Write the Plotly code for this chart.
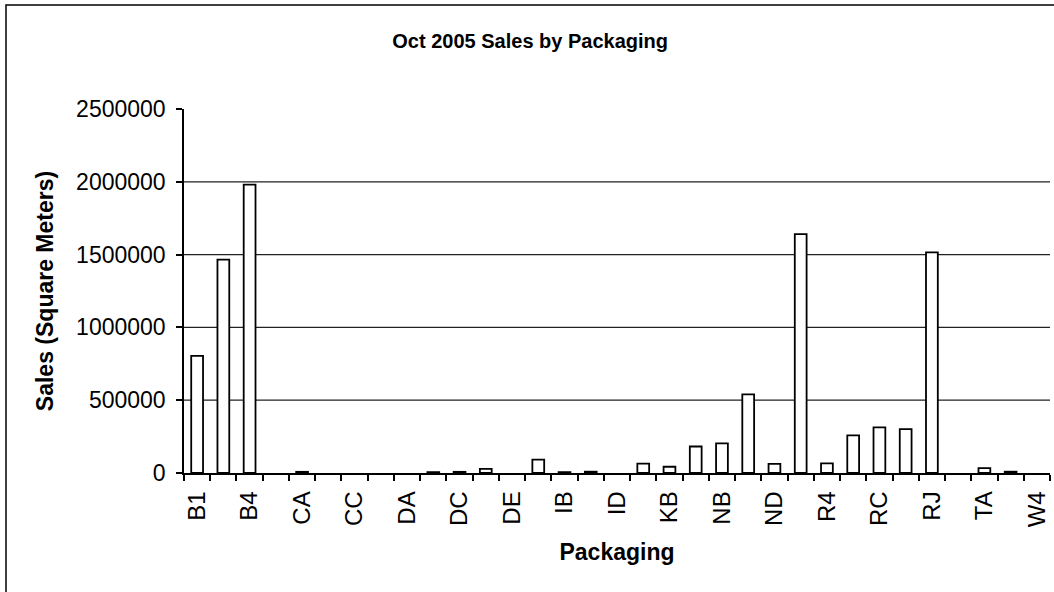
import plotly.graph_objects as go

# Packaging codes in chart order (every other code is labelled on the axis)
categories = ["B1", "B3", "B4", "BC", "CA", "CB", "CC", "CD", "DA", "DB", "DC",
              "DD", "DE", "IA", "IB", "IC", "ID", "KA", "KB", "NA", "NB", "NC",
              "ND", "R1", "R4", "RA", "RC", "RD", "RJ", "SA", "TA", "TB", "W4"]

# October 2005 sales, square meters
sales = [805000, 1465000, 1980000, 0, 8000, 0, 0, 0, 0, 6000, 8000,
         28000, 0, 92000, 6000, 9000, 0, 64000, 43000, 182000, 203000, 540000,
         62000, 1640000, 66000, 258000, 313000, 302000, 1515000, 0, 33000, 9000, 0]

tick_labels = [c if i % 2 == 0 else "" for i, c in enumerate(categories)]
y_ticks = [0, 500000, 1000000, 1500000, 2000000, 2500000]
grid_values = [500000, 1000000, 1500000, 2000000]

FONT = "Liberation Sans, Arial, sans-serif"

# empty codes get no outline so nothing is drawn for them
outline_widths = [1.8 if v > 0 else 0 for v in sales]

fig = go.Figure(
    go.Bar(
        x=categories,
        y=sales,
        width=0.45,
        marker=dict(color="white", line=dict(color="black", width=outline_widths)),
    )
)

for g in grid_values:
    fig.add_hline(y=g, line=dict(color="#222222", width=1.2), layer="below")

fig.update_layout(
    width=1054,
    height=592,
    margin=dict(l=184, r=4, t=109, b=119),
    paper_bgcolor="white",
    plot_bgcolor="white",
    showlegend=False,
    font=dict(family=FONT, color="black"),
    title=dict(
        text="<b>Oct 2005 Sales by Packaging</b>",
        x=0.503, xanchor="center",
        y=1 - 41 / 592, yanchor="middle",
        font=dict(size=20, family=FONT, color="black"),
    ),
    xaxis=dict(
        type="category",
        tickmode="array",
        tickvals=categories,
        ticktext=tick_labels,
        tickson="boundaries",
        ticks="outside",
        ticklen=6,
        tickwidth=1.5,
        tickcolor="black",
        tickangle=-90,
        tickfont=dict(size=24, family=FONT, color="black"),
        ticklabelstandoff=7,
        showline=True,
        linecolor="black",
        linewidth=1.5,
        showgrid=False,
        range=[-0.5, len(categories) - 0.5],
        title=dict(text="<b>Packaging</b>", font=dict(size=23, family=FONT),
                   standoff=18),
    ),
    yaxis=dict(
        range=[0, 2500000],
        tickmode="array",
        tickvals=y_ticks,
        ticktext=[str(v) for v in y_ticks],
        ticks="outside",
        ticklen=6,
        tickwidth=1.5,
        tickcolor="black",
        tickfont=dict(size=23, family=FONT, color="black"),
        ticklabelstandoff=6,
        showline=True,
        linecolor="black",
        linewidth=1.5,
        showgrid=False,
        zeroline=False,
        title=dict(text="<b>Sales (Square Meters)</b>", font=dict(size=23, family=FONT),
                   standoff=16),
    ),
)

# Chart-area frame
fig.add_shape(
    type="rect", xref="paper", yref="paper",
    x0=(6 - 184) / 866, x1=1.2, y0=-1.0, y1=1 + (109 - 5) / 364,
    line=dict(color="black", width=1.5), fillcolor="rgba(0,0,0,0)", layer="below",
)

fig.write_html("out.html")
